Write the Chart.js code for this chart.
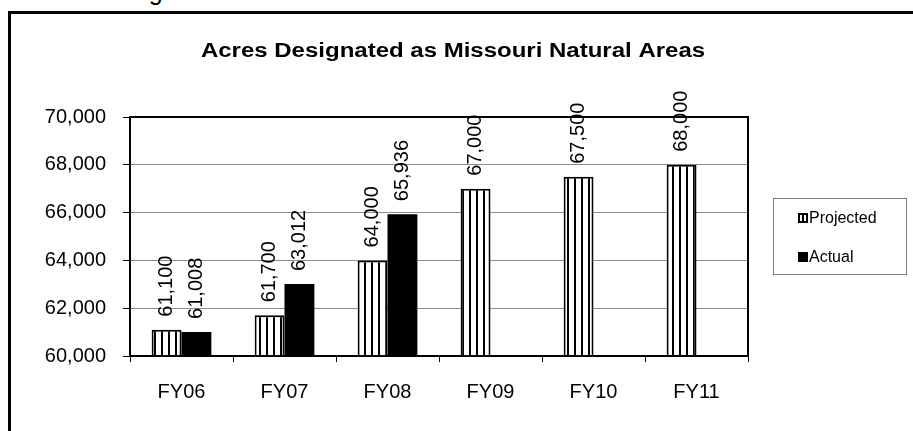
<!DOCTYPE html>
<html>
<head>
<meta charset="utf-8">
<script src="https://cdn.jsdelivr.net/npm/chart.js@4"></script>
<style>
  html, body { margin: 0; padding: 0; background: #fff; overflow: hidden; }
  #wrap { position: relative; width: 913px; height: 431px; overflow: hidden; }
  #frame { position: absolute; left: 8px; top: 11px; width: 1000px; height: 1000px; border: 3px solid #000; }
  #cut { position: absolute; left: 32px; top: -21px; font: 25px "Liberation Sans", Arial, sans-serif; line-height: 25px; color: #000; white-space: nowrap; }
  canvas { position: absolute; left: 0; top: 0; }
</style>
</head>
<body>
<div id="wrap">
  <div id="cut">Acres designated as Missouri Natural Areas</div>
  <div id="frame"></div>
  <canvas id="c" width="913" height="431"></canvas>
</div>
<script>
const years = ['FY06', 'FY07', 'FY08', 'FY09', 'FY10', 'FY11'];
const projected = [61100, 61700, 64000, 67000, 67500, 68000];
const actual = [61008, 63012, 65936, null, null, null];
const yTicks = [60000, 62000, 64000, 66000, 68000, 70000];
const chartTitle = 'Acres Designated as Missouri Natural Areas';

const FONT = '"Liberation Sans", Arial, sans-serif';
const fmt = v => v.toLocaleString('en-US');

// vertical stripe fill for the projected bars
function stripes() {
  const p = document.createElement('canvas');
  p.width = 7; p.height = 7;
  const g = p.getContext('2d');
  g.fillStyle = '#fff';
  g.fillRect(0, 0, 7, 7);
  g.fillStyle = '#000';
  g.fillRect(0, 0, 2, 7);
  return g.createPattern(p, 'repeat');
}

const ctx = document.getElementById('c').getContext('2d');
const striped = stripes();

const extras = {
  id: 'extras',
  afterDatasetsDraw(chart) {
    const c = chart.ctx;
    const a = chart.chartArea;
    c.save();
    // plot border
    c.strokeStyle = '#000';
    c.lineWidth = 2;
    c.strokeRect(a.left, a.top, a.right - a.left, a.bottom - a.top);

    // title, a bit wider than the plain font like the original
    c.fillStyle = '#000';
    c.font = 'bold 20px ' + FONT;
    c.textAlign = 'center';
    c.textBaseline = 'alphabetic';
    c.save();
    c.translate(453, 57);
    c.scale(1.2, 1);
    c.fillText(chartTitle, 0, 0);
    c.restore();

    // rotated value labels
    c.font = '20px ' + FONT;
    c.textAlign = 'left';
    c.textBaseline = 'middle';
    chart.data.datasets.forEach((ds, i) => {
      chart.getDatasetMeta(i).data.forEach((bar, j) => {
        const v = ds.data[j];
        if (v == null) return;
        c.save();
        c.translate(bar.x, bar.y - 13);
        c.rotate(-Math.PI / 2);
        c.fillText(fmt(v), 0, 0);
        c.restore();
      });
    });

    // legend box
    const lx = 773, ly = 198, lw = 133, lh = 76;
    c.lineWidth = 1;
    c.strokeStyle = '#808080';
    c.strokeRect(lx + 0.5, ly + 0.5, lw, lh);
    c.font = '16px ' + FONT;
    c.textBaseline = 'alphabetic';
    chart.data.datasets.forEach((ds, i) => {
      const y = ly + 25 + i * 39;
      c.fillStyle = '#000';
      c.fillRect(798, y - 10, 10, 10);
      if (i === 0) {
        c.fillStyle = '#fff';
        c.fillRect(800, y - 8, 6, 6);
        c.fillStyle = '#000';
        c.fillRect(802, y - 8, 2, 6);
      }
      c.fillStyle = '#000';
      c.fillText(ds.label, 809, y);
    });
    c.restore();
  }
};

new Chart(ctx, {
  type: 'bar',
  data: {
    labels: years,
    datasets: [
      {
        label: 'Projected',
        data: projected,
        backgroundColor: striped,
        borderColor: '#000',
        borderWidth: 2,
        borderSkipped: 'bottom'
      },
      {
        label: 'Actual',
        data: actual,
        backgroundColor: '#000',
        borderColor: '#000',
        borderWidth: 0
      }
    ]
  },
  options: {
    responsive: false,
    animation: false,
    layout: { padding: { left: 0, right: 165, top: 117, bottom: 0 } },
    datasets: { bar: { barPercentage: 1, categoryPercentage: 0.58 } },
    plugins: {
      legend: { display: false },
      tooltip: { enabled: false },
      title: { display: false }
    },
    scales: {
      x: {
        afterFit: s => { s.height = 75; },
        grid: { drawOnChartArea: false, tickLength: 6, tickColor: '#000', offset: true },
        border: { color: '#000', width: 2 },
        ticks: { color: '#000', padding: 18, font: { family: FONT, size: 20 } }
      },
      y: {
        min: 60000,
        max: 70000,
        afterFit: s => { s.width = 130; },
        afterBuildTicks: s => { s.ticks = yTicks.map(v => ({ value: v })); },
        grid: { color: '#8c8c8c', lineWidth: 1, tickLength: 7, tickColor: '#000' },
        border: { color: '#000', width: 2 },
        ticks: { color: '#000', padding: 17, font: { family: FONT, size: 20 }, callback: v => fmt(v) }
      }
    }
  },
  plugins: [extras]
});
</script>
</body>
</html>
